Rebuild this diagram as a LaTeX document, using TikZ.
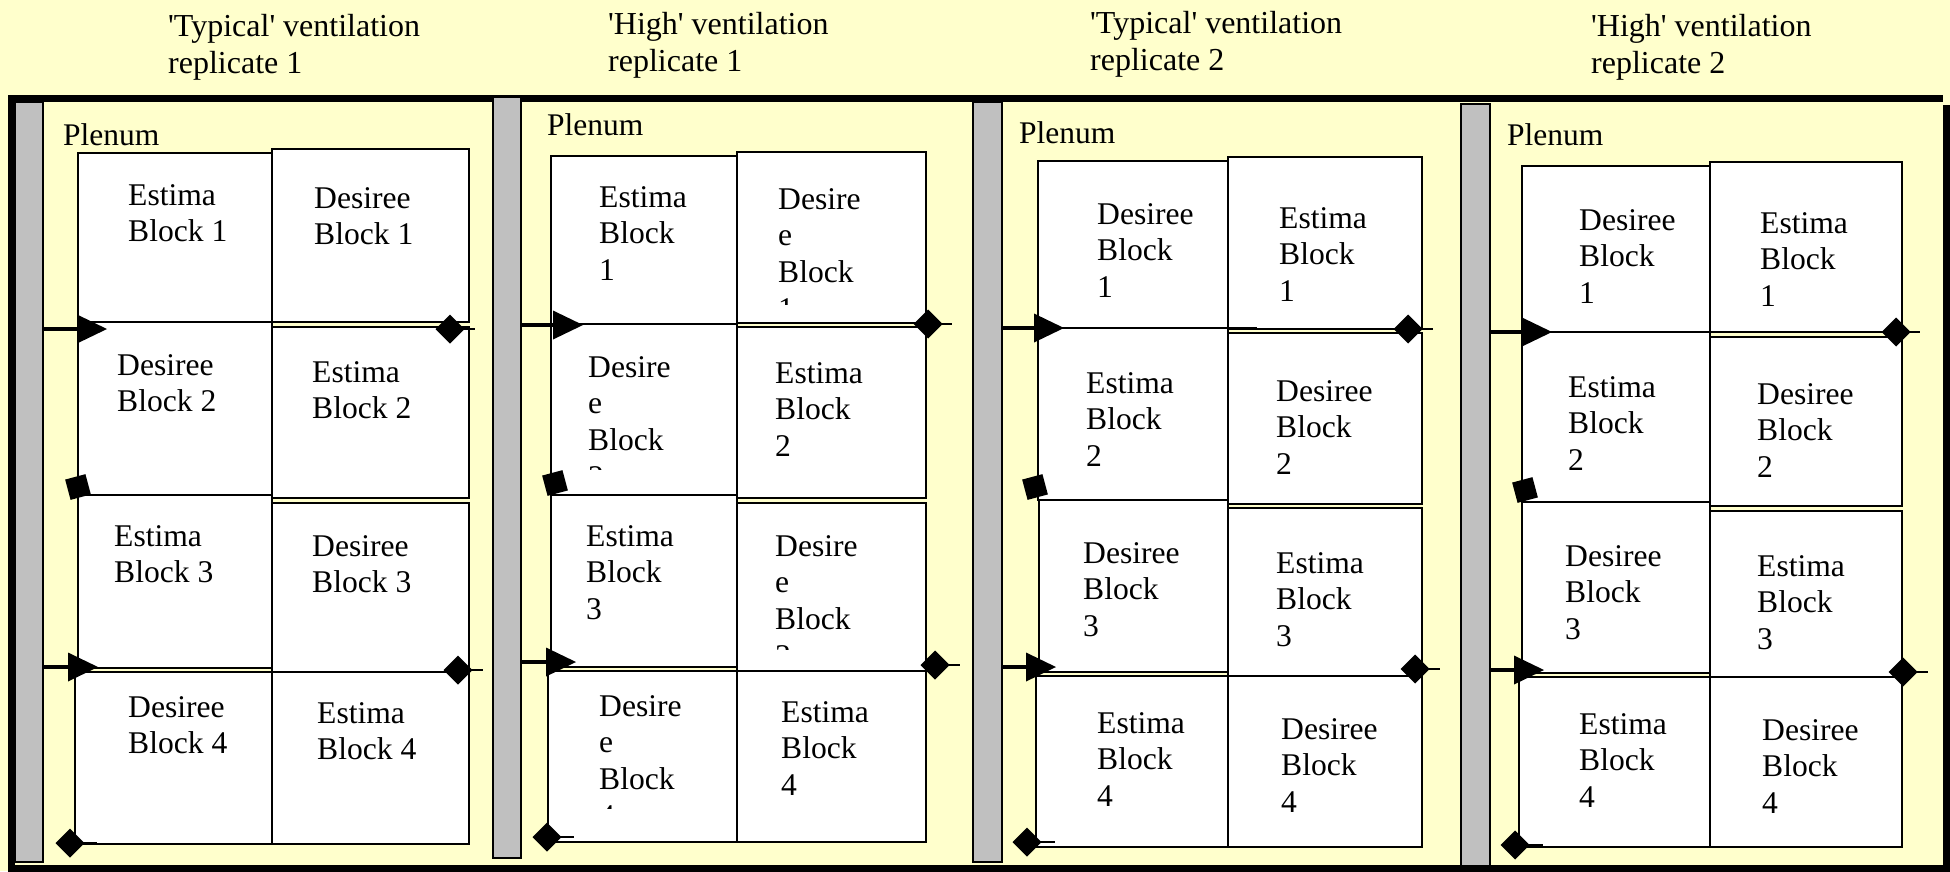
\documentclass[tikz,border=0pt]{standalone}
\usepackage{fontspec}
\setmainfont{Liberation Serif}[Ligatures=TeXOff]
\definecolor{bgyellow}{HTML}{FFFFCC}
\definecolor{bargray}{HTML}{C0C0C0}
\newcommand{\celltext}[1]{\begin{tabular}[t]{@{}l@{}}#1\end{tabular}}
\newcommand{\sensordiamond}[3]{%
  \fill[shift={(#1,#2)}] (-14.5,0) -- (0,-14.5) -- (14.5,0) -- (0,14.5) -- cycle;
  \draw[tailline] (#1,#2) -- (#3,#2);}
\newcommand{\markersquare}[2]{%
  \fill[shift={(#1,#2)}, rotate=15] (-10.5,-10.5) rectangle (10.5,10.5);}
\newcommand{\inletarrow}[3]{%
  \draw[feedline] (#1,#2) -- (#3+3,#2);
  \fill[shift={(#3,#2)}] (0,-14.5) -- (30,0) -- (0,14.5) -- cycle;}
\tikzset{
  blockbox/.style={draw=black, fill=white, line width=2pt},
  plenumbar/.style={draw=black, fill=bargray, line width=1.3pt},
  frameline/.style={line width=7pt, black},
  celllabel/.style={anchor=base west, inner sep=0pt, font=\fontsize{31.6}{36.7}\selectfont},
  titlelabel/.style={anchor=base west, inner sep=0pt, font=\fontsize{32}{37}\selectfont},
  plenumlabel/.style={anchor=base west, inner sep=0pt, font=\fontsize{31.5}{36}\selectfont},
  feedline/.style={line width=4pt, black},
  tailline/.style={line width=1.5pt, black},
}
\begin{document}
\begin{tikzpicture}[x=1pt, y=-1pt]
\useasboundingbox (0,0) rectangle (1950,871);
\fill[bgyellow] (0,0) rectangle (1950,871);

% outer frame
\draw[frameline] (8,98.5) -- (1943,98.5);
\draw[frameline] (11.5,95) -- (11.5,871);
\draw[frameline] (8,868.5) -- (1950,868.5);
\draw[frameline] (1946.5,105) -- (1946.5,871);

% plenum bars
\draw[plenumbar] (15,102) rectangle (43,862);
\draw[plenumbar] (493,97) rectangle (521,858);
\draw[plenumbar] (973,102) rectangle (1002,862);
\draw[plenumbar] (1461,104) rectangle (1490,866);

% titles
\node[titlelabel] (t1) at (168,36) {\celltext{'Typical' ventilation\\replicate 1}};
\node[titlelabel] (t2) at (608,34) {\celltext{'High' ventilation\\replicate 1}};
\node[titlelabel] (t3) at (1090,33) {\celltext{'Typical' ventilation\\replicate 2}};
\node[titlelabel] (t4) at (1591,36) {\celltext{'High' ventilation\\replicate 2}};

% plenum labels
\node[plenumlabel] (pl1) at (63,145) {Plenum};
\node[plenumlabel] (pl2) at (547,135) {Plenum};
\node[plenumlabel] (pl3) at (1019,143) {Plenum};
\node[plenumlabel] (pl4) at (1507,145) {Plenum};

% ---------- panel 1 boxes ----------
\draw[blockbox] (78,153) rectangle (272,322);
\draw[blockbox] (272,149) rectangle (469,322);
\draw[blockbox] (78,322) rectangle (272,495);
\draw[blockbox] (272,327) rectangle (469,498);
\draw[blockbox] (78,495) rectangle (272,668);
\draw[blockbox] (272,503) rectangle (469,672);
\draw[blockbox] (75,672) rectangle (272,844);
\draw[blockbox] (272,672) rectangle (469,844);

% ---------- panel 2 boxes ----------
\draw[blockbox] (551,156) rectangle (737,324);
\draw[blockbox] (737,152) rectangle (926,323);
\draw[blockbox] (551,324) rectangle (737,495);
\draw[blockbox] (737,327) rectangle (926,498);
\draw[blockbox] (551,495) rectangle (737,667);
\draw[blockbox] (737,503) rectangle (926,671);
\draw[blockbox] (548,671) rectangle (737,842);
\draw[blockbox] (737,671) rectangle (926,842);

% ---------- panel 3 boxes ----------
\draw[blockbox] (1038,161) rectangle (1228,328);
\draw[blockbox] (1228,157) rectangle (1422,329);
\draw[blockbox] (1038,328) rectangle (1228,500);
\draw[blockbox] (1228,333) rectangle (1422,504);
\draw[blockbox] (1039,500) rectangle (1228,672);
\draw[blockbox] (1228,508) rectangle (1422,676);
\draw[blockbox] (1036,676) rectangle (1228,847);
\draw[blockbox] (1228,676) rectangle (1422,847);

% ---------- panel 4 boxes ----------
\draw[blockbox] (1522,166) rectangle (1710,332);
\draw[blockbox] (1710,162) rectangle (1902,332);
\draw[blockbox] (1522,332) rectangle (1710,502);
\draw[blockbox] (1710,337) rectangle (1902,506);
\draw[blockbox] (1522,502) rectangle (1710,673);
\draw[blockbox] (1710,511) rectangle (1902,677);
\draw[blockbox] (1519,677) rectangle (1710,847);
\draw[blockbox] (1710,677) rectangle (1902,847);

% ---------- panel 1 texts ----------
\node[celllabel] (p1a1) at (128,205) {\celltext{Estima\\Block 1}};
\node[celllabel] (p1b1) at (314,208) {\celltext{Desiree\\Block 1}};
\node[celllabel] (p1a2) at (117,375) {\celltext{Desiree\\Block 2}};
\node[celllabel] (p1b2) at (312,382) {\celltext{Estima\\Block 2}};
\node[celllabel] (p1a3) at (114,546) {\celltext{Estima\\Block 3}};
\node[celllabel] (p1b3) at (312,556) {\celltext{Desiree\\Block 3}};
\node[celllabel] (p1a4) at (128,717) {\celltext{Desiree\\Block 4}};
\node[celllabel] (p1b4) at (317,723) {\celltext{Estima\\Block 4}};

% ---------- panel 2 texts ----------
\node[celllabel] (p2a1) at (599,207) {\celltext{Estima\\Block\\1}};
\begin{scope}
  \clip (737,152) rectangle (926,304);
  \node[celllabel] (p2b1) at (778,209) {\celltext{Desire\\e\\Block\\1}};
\end{scope}
\begin{scope}
  \clip (551,324) rectangle (737,469.5);
  \node[celllabel] (p2a2) at (588,377) {\celltext{Desire\\e\\Block\\2}};
\end{scope}
\node[celllabel] (p2b2) at (775,383) {\celltext{Estima\\Block\\2}};
\node[celllabel] (p2a3) at (586,546) {\celltext{Estima\\Block\\3}};
\begin{scope}
  \clip (737,503) rectangle (926,649.5);
  \node[celllabel] (p2b3) at (775,556) {\celltext{Desire\\e\\Block\\3}};
\end{scope}
\begin{scope}
  \clip (548,671) rectangle (737,808);
  \node[celllabel] (p2a4) at (599,716) {\celltext{Desire\\e\\Block\\4}};
\end{scope}
\node[celllabel] (p2b4) at (781,722) {\celltext{Estima\\Block\\4}};

% ---------- panel 3 texts ----------
\node[celllabel] (p3a1) at (1097,224) {\celltext{Desiree\\Block\\1}};
\node[celllabel] (p3b1) at (1279,228) {\celltext{Estima\\Block\\1}};
\node[celllabel] (p3a2) at (1086,393) {\celltext{Estima\\Block\\2}};
\node[celllabel] (p3b2) at (1276,401) {\celltext{Desiree\\Block\\2}};
\node[celllabel] (p3a3) at (1083,563) {\celltext{Desiree\\Block\\3}};
\node[celllabel] (p3b3) at (1276,573) {\celltext{Estima\\Block\\3}};
\node[celllabel] (p3a4) at (1097,733) {\celltext{Estima\\Block\\4}};
\node[celllabel] (p3b4) at (1281,739) {\celltext{Desiree\\Block\\4}};

% ---------- panel 4 texts ----------
\node[celllabel] (p4a1) at (1579,230) {\celltext{Desiree\\Block\\1}};
\node[celllabel] (p4b1) at (1760,233) {\celltext{Estima\\Block\\1}};
\node[celllabel] (p4a2) at (1568,397) {\celltext{Estima\\Block\\2}};
\node[celllabel] (p4b2) at (1757,404) {\celltext{Desiree\\Block\\2}};
\node[celllabel] (p4a3) at (1565,566) {\celltext{Desiree\\Block\\3}};
\node[celllabel] (p4b3) at (1757,576) {\celltext{Estima\\Block\\3}};
\node[celllabel] (p4a4) at (1579,734) {\celltext{Estima\\Block\\4}};
\node[celllabel] (p4b4) at (1762,740) {\celltext{Desiree\\Block\\4}};

% ---------- inlet arrows ----------
\inletarrow{43}{329}{77}
\inletarrow{43}{667}{68}
\inletarrow{521}{325}{553}
\inletarrow{521}{662}{546}
\draw[tailline] (1063,328) -- (1257,328);
\inletarrow{1002}{328}{1034}
\inletarrow{1002}{667}{1026}
\draw[tailline] (1552,332) -- (1740,332);
\inletarrow{1490}{332}{1522}
\inletarrow{1490}{670}{1514}

% ---------- sensors (diamonds) ----------
\sensordiamond{450}{329}{475}
\sensordiamond{458}{670}{483}
\sensordiamond{70}{843}{97}
\sensordiamond{928}{324}{952}
\sensordiamond{935}{665}{960}
\sensordiamond{547}{837}{574}
\sensordiamond{1408}{329}{1433}
\sensordiamond{1415}{669}{1440}
\sensordiamond{1027}{842}{1055}
\sensordiamond{1896}{332}{1920}
\sensordiamond{1903}{672}{1928}
\sensordiamond{1515}{845}{1543}

% ---------- tilted squares ----------
\markersquare{78}{487}
\markersquare{555}{483}
\markersquare{1035}{487}
\markersquare{1525}{490}
\end{tikzpicture}
\end{document}
